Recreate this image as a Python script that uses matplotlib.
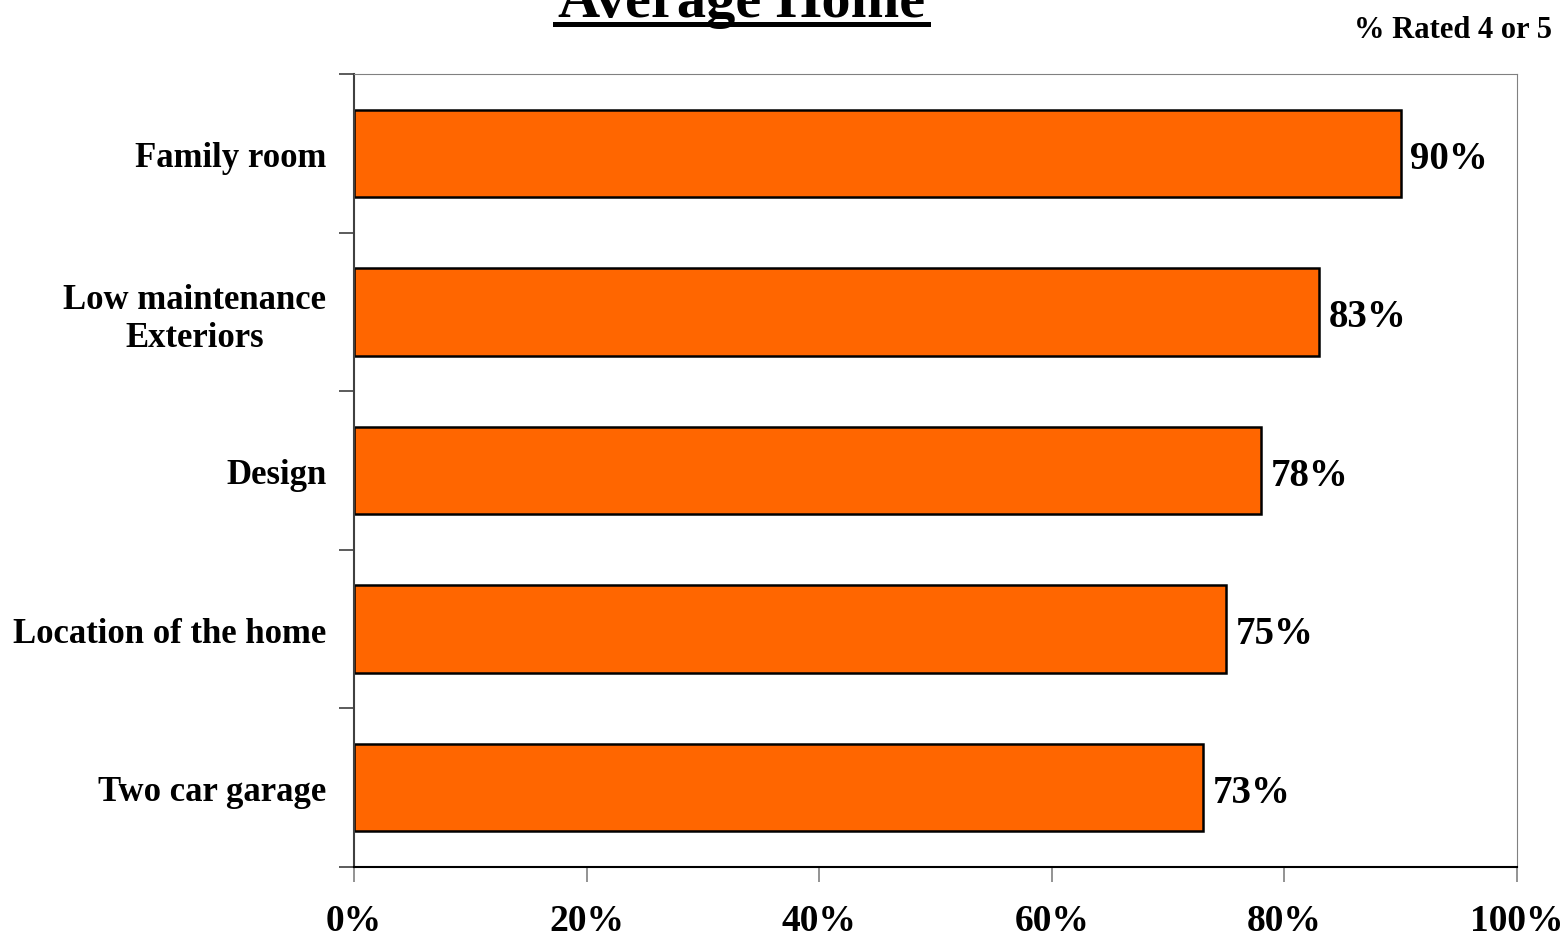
import numpy as np
import matplotlib.pyplot as plt
from matplotlib.lines import Line2D

categories = ['Family room', 'Low maintenance\nExteriors', 'Design',
              'Location of the home', 'Two car garage']
values = [90, 83, 78, 75, 73]
xticks = [0, 20, 40, 60, 80, 100]
xlabels = ['0%', '20%', '40%', '60%', '80%', '100%']

plt.rcParams['font.family'] = ['Liberation Serif', 'DejaVu Serif']
plt.rcParams['font.weight'] = 'bold'

fig = plt.figure(figsize=(15.64, 9.37), dpi=100)
ax = fig.add_axes([354/1564, 1-868/937, (1517-354)/1564, (868-75)/937])

pos = np.arange(len(categories))
ax.barh(pos, values, height=0.55, color='#FF6600', edgecolor='black', linewidth=1.8)
ax.set_ylim(len(categories)-0.5, -0.5)
ax.set_xlim(0, 100)

for p, v in zip(pos, values):
    ax.text(v + 0.8, p + 0.03, '%d%%' % v, va='center', ha='left', fontsize=28, fontweight='bold')

# ticks at category boundaries, labels in the middle
ax.set_yticks(np.arange(-0.5, len(categories)), labels=[''] * (len(categories)+1))
ax.set_yticks(pos, labels=categories, minor=True)
ax.tick_params(axis='y', which='major', direction='out', length=11, width=1.2, color='#404040')
ax.tick_params(axis='y', which='minor', length=0, pad=20, labelsize=25)
for t in ax.get_yticklabels(minor=True):
    t.set_fontweight('bold')
    t.set_multialignment('center')

ax.set_xticks(xticks, labels=xlabels)
ax.tick_params(axis='x', direction='out', length=11, width=1.2, color='#808080', pad=15, labelsize=27)
for t in ax.get_xticklabels():
    t.set_fontweight('bold')

ax.spines['left'].set_color('#404040')
ax.spines['left'].set_linewidth(1.5)
ax.spines['bottom'].set_color('black')
ax.spines['bottom'].set_linewidth(1.5)
ax.spines['top'].set_color('#808080')
ax.spines['right'].set_color('#808080')

# title, cut off at the top like the source
fig.text(742/1564, 1-17/937, 'Average Home', ha='center', va='baseline', fontsize=42, fontweight='bold')
fig.add_artist(Line2D([555/1564, 928/1564], [1-24.5/937, 1-24.5/937], color='black', linewidth=3.6,
                      transform=fig.transFigure))
fig.text(1552/1564, 1-38/937, '% Rated 4 or 5', ha='right', va='baseline', fontsize=22, fontweight='bold')

fig.savefig('out.png', dpi=100)
